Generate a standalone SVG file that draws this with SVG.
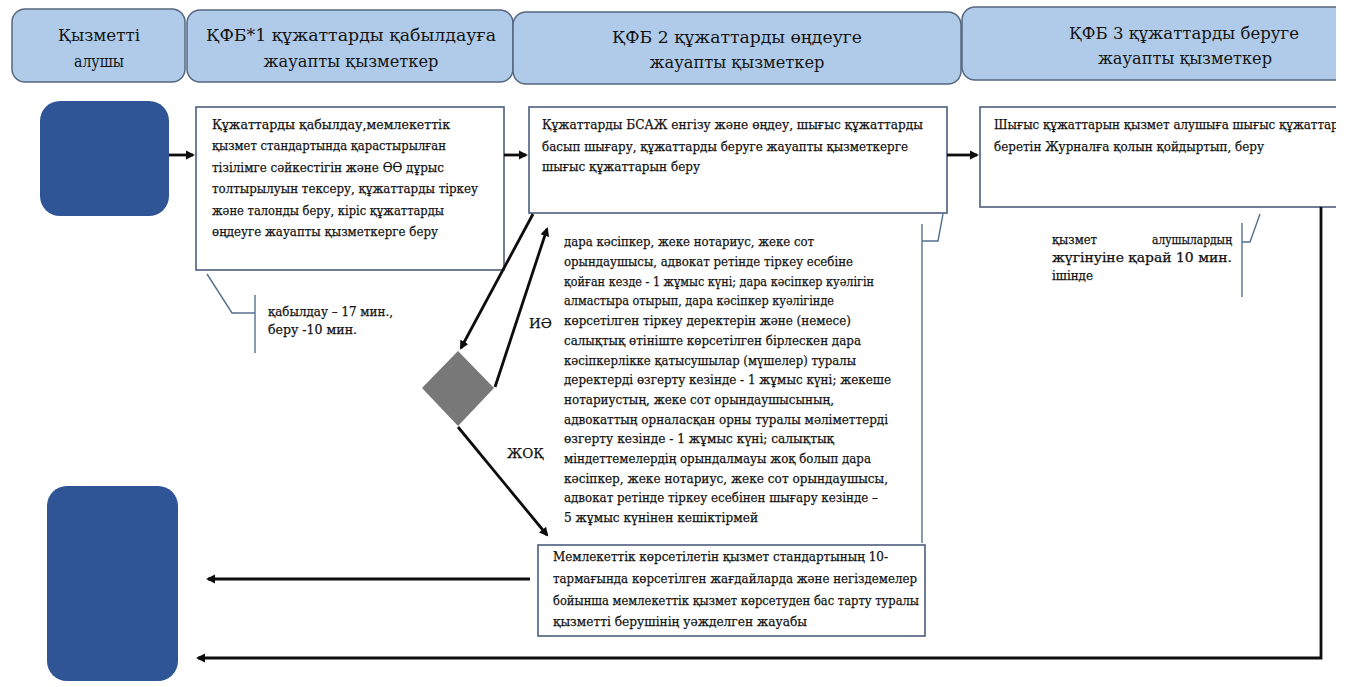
<svg xmlns="http://www.w3.org/2000/svg" width="1346" height="687" viewBox="0 0 1346 687">
  <style>
    .lane { fill: #afcbe9; stroke: #56677f; stroke-width: 1.5; }
    .ht { font-family: "DejaVu Serif", "Liberation Serif", serif; font-size: 17px; fill: #141414; text-anchor: middle; }
    .node { fill: #2f5597; }
    .box { fill: #ffffff; stroke: #4c5d7e; stroke-width: 1.6; }
    .t { font-family: "DejaVu Serif", "Liberation Serif", serif; font-size: 13.5px; fill: #111; stroke: #111; stroke-width: 0.25; }
    .ts { font-family: "DejaVu Serif", "Liberation Serif", serif; font-size: 12.5px; fill: #111; stroke: #111; stroke-width: 0.25; }
    .ln { fill: none; stroke: #0d0d0d; stroke-width: 2.8; }
    .co { fill: none; stroke: #55708f; stroke-width: 1.4; }
    .dec { fill: #787878; }
  </style>
  <defs>
    <marker id="ah" markerWidth="10" markerHeight="10" refX="7" refY="5" orient="auto" markerUnits="userSpaceOnUse">
      <path d="M0,0.5 L9,5 L0,9.5 Z" fill="#0d0d0d"/>
    </marker>
    <clipPath id="page">
      <rect x="0" y="0" width="1336" height="687"/>
    </clipPath>
  </defs>
  <rect width="1346" height="687" fill="#ffffff"/>

  <g clip-path="url(#page)">
    <!-- swimlane headers -->
    <g id="lane-recipient">
      <rect class="lane" x="12" y="9" width="173" height="73" rx="13"/>
      <text class="ht" x="99" y="41" textLength="82" lengthAdjust="spacingAndGlyphs">Қызметті</text>
      <text class="ht" x="99" y="67" textLength="50" lengthAdjust="spacingAndGlyphs">алушы</text>
    </g>
    <g id="lane-intake">
      <rect class="lane" x="187" y="10" width="326" height="72" rx="13"/>
      <text class="ht" x="351" y="41" textLength="290" lengthAdjust="spacingAndGlyphs">ҚФБ*1 құжаттарды қабылдауға</text>
      <text class="ht" x="351" y="67" textLength="175" lengthAdjust="spacingAndGlyphs">жауапты қызметкер</text>
    </g>
    <g id="lane-processing">
      <rect class="lane" x="513" y="12" width="448" height="72" rx="13"/>
      <text class="ht" x="737" y="43" textLength="250" lengthAdjust="spacingAndGlyphs">ҚФБ 2 құжаттарды өңдеуге</text>
      <text class="ht" x="737" y="68" textLength="175" lengthAdjust="spacingAndGlyphs">жауапты қызметкер</text>
    </g>
    <g id="lane-issue">
      <rect class="lane" x="962" y="7" width="420" height="73" rx="13"/>
      <text class="ht" x="1184" y="39" textLength="230" lengthAdjust="spacingAndGlyphs">ҚФБ 3 құжаттарды беруге</text>
      <text class="ht" x="1185" y="64" textLength="174" lengthAdjust="spacingAndGlyphs">жауапты қызметкер</text>
    </g>

    <!-- start / end terminals -->
    <g id="start">
      <rect class="node" x="40" y="101" width="129" height="115" rx="20"/>
    </g>
    <g id="end">
      <rect class="node" x="47" y="486" width="131" height="195" rx="20"/>
    </g>

    <!-- step 1: intake -->
    <g id="step-intake">
      <rect class="box" x="196" y="107" width="308" height="163"/>
      <text class="t" x="212" y="129" textLength="238" lengthAdjust="spacingAndGlyphs">Құжаттарды қабылдау,мемлекеттік</text>
      <text class="t" x="212" y="150" textLength="234" lengthAdjust="spacingAndGlyphs">қызмет стандартында қарастырылған</text>
      <text class="t" x="212" y="172" textLength="232" lengthAdjust="spacingAndGlyphs">тізілімге сәйкестігін және ӨӨ дұрыс</text>
      <text class="t" x="212" y="193" textLength="266" lengthAdjust="spacingAndGlyphs">толтырылуын тексеру, құжаттарды тіркеу</text>
      <text class="t" x="212" y="215" textLength="232" lengthAdjust="spacingAndGlyphs">және талонды беру, кіріс құжаттарды</text>
      <text class="t" x="212" y="236" textLength="226" lengthAdjust="spacingAndGlyphs">өңдеуге жауапты қызметкерге беру</text>
    </g>

    <!-- step 2: processing -->
    <g id="step-processing">
      <rect class="box" x="529" y="107" width="418" height="106"/>
      <text class="t" x="542" y="129" textLength="381" lengthAdjust="spacingAndGlyphs">Құжаттарды БСАЖ енгізу және өңдеу, шығыс құжаттарды</text>
      <text class="t" x="542" y="151" textLength="366" lengthAdjust="spacingAndGlyphs">басып шығару, құжаттарды беруге жауапты қызметкерге</text>
      <text class="t" x="542" y="171" textLength="158" lengthAdjust="spacingAndGlyphs">шығыс құжаттарын беру</text>
    </g>

    <!-- step 3: issue (runs past the right page edge) -->
    <g id="step-issue">
      <rect class="box" x="980" y="107" width="400" height="100"/>
      <text class="t" x="994" y="129" textLength="362" lengthAdjust="spacingAndGlyphs">Шығыс құжаттарын қызмет алушыға шығыс құжаттарын</text>
      <text class="t" x="994" y="151" textLength="270" lengthAdjust="spacingAndGlyphs">беретін Журналға қолын қойдыртып, беру</text>
    </g>

    <!-- decision -->
    <g id="decision">
      <polygon class="dec" points="458,351 494,388 458,426 422,388"/>
    </g>

    <!-- refusal -->
    <g id="step-refusal">
      <rect class="box" x="538" y="545" width="387" height="91"/>
      <text class="t" x="553" y="561" textLength="335" lengthAdjust="spacingAndGlyphs">Мемлекеттік көрсетілетін қызмет стандартының 10-</text>
      <text class="t" x="553" y="583" textLength="364" lengthAdjust="spacingAndGlyphs">тармағында көрсетілген жағдайларда және негіздемелер</text>
      <text class="t" x="553" y="605" textLength="366" lengthAdjust="spacingAndGlyphs">бойынша мемлекеттік қызмет көрсетуден бас тарту туралы</text>
      <text class="t" x="553" y="626" textLength="254" lengthAdjust="spacingAndGlyphs">қызметті берушінің уәжделген жауабы</text>
    </g>

    <!-- time notes (callouts) -->
    <g id="note-intake">
      <polyline class="co" points="207,274 232,313 255,313"/>
      <line class="co" x1="255" y1="295" x2="255" y2="353"/>
      <text class="t" x="268" y="316" textLength="125" lengthAdjust="spacingAndGlyphs">қабылдау – 17 мин.,</text>
      <text class="t" x="268" y="334" textLength="89" lengthAdjust="spacingAndGlyphs">беру -10 мин.</text>
    </g>

    <g id="note-processing">
      <polyline class="co" points="943,214 938,241 922,241"/>
      <line class="co" x1="922" y1="224" x2="922" y2="543"/>
      <text class="t" x="564" y="246" textLength="250" lengthAdjust="spacingAndGlyphs">дара кәсіпкер, жеке нотариус, жеке сот</text>
      <text class="t" x="564" y="266" textLength="289" lengthAdjust="spacingAndGlyphs">орындаушысы, адвокат ретінде тіркеу есебіне</text>
      <text class="t" x="564" y="286" textLength="310" lengthAdjust="spacingAndGlyphs">қойған кезде - 1 жұмыс күні; дара кәсіпкер куәлігін</text>
      <text class="t" x="564" y="305" textLength="270" lengthAdjust="spacingAndGlyphs">алмастыра отырып, дара кәсіпкер куәлігінде</text>
      <text class="t" x="564" y="325" textLength="287" lengthAdjust="spacingAndGlyphs">көрсетілген тіркеу деректерін және (немесе)</text>
      <text class="t" x="564" y="345" textLength="297" lengthAdjust="spacingAndGlyphs">салықтық өтініште көрсетілген бірлескен дара</text>
      <text class="t" x="564" y="365" textLength="292" lengthAdjust="spacingAndGlyphs">кәсіпкерлікке қатысушылар (мүшелер) туралы</text>
      <text class="t" x="564" y="384" textLength="327" lengthAdjust="spacingAndGlyphs">деректерді өзгерту кезінде -  1 жұмыс күні; жекеше</text>
      <text class="t" x="564" y="404" textLength="270" lengthAdjust="spacingAndGlyphs">нотариустың, жеке сот орындаушысының,</text>
      <text class="t" x="564" y="424" textLength="324" lengthAdjust="spacingAndGlyphs">адвокаттың орналасқан орны туралы мәліметтерді</text>
      <text class="t" x="564" y="443" textLength="270" lengthAdjust="spacingAndGlyphs">өзгерту кезінде - 1 жұмыс күні; салықтық</text>
      <text class="t" x="564" y="463" textLength="307" lengthAdjust="spacingAndGlyphs">міндеттемелердің орындалмауы жоқ болып дара</text>
      <text class="t" x="564" y="483" textLength="324" lengthAdjust="spacingAndGlyphs">кәсіпкер, жеке нотариус, жеке сот орындаушысы,</text>
      <text class="t" x="564" y="502" textLength="314" lengthAdjust="spacingAndGlyphs">адвокат ретінде тіркеу есебінен  шығару кезінде –</text>
      <text class="t" x="564" y="522" textLength="194" lengthAdjust="spacingAndGlyphs">5 жұмыс күнінен кешіктірмей</text>
    </g>

    <g id="note-issue">
      <polyline class="co" points="1260,214 1250,242 1242,242"/>
      <line class="co" x1="1242" y1="223" x2="1242" y2="297"/>
      <text class="ts" x="1052" y="244" textLength="45" lengthAdjust="spacingAndGlyphs">қызмет</text>
      <text class="ts" x="1232" y="244" text-anchor="end" textLength="80" lengthAdjust="spacingAndGlyphs">алушылардың</text>
      <text class="ts" x="1052" y="262" textLength="180" lengthAdjust="spacingAndGlyphs">жүгінуіне қарай 10 мин.</text>
      <text class="ts" x="1052" y="280" textLength="41" lengthAdjust="spacingAndGlyphs">ішінде</text>
    </g>

    <!-- connectors -->
    <g id="connectors">
      <line class="ln" x1="169" y1="155" x2="193" y2="155" marker-end="url(#ah)"/>
      <line class="ln" x1="504" y1="155" x2="526" y2="155" marker-end="url(#ah)"/>
      <line class="ln" x1="947" y1="155" x2="977" y2="155" marker-end="url(#ah)"/>
      <line class="ln" x1="533" y1="214" x2="461" y2="348" marker-end="url(#ah)"/>
      <line class="ln" x1="495" y1="387" x2="547" y2="229" marker-end="url(#ah)"/>
      <line class="ln" x1="458" y1="427" x2="547" y2="535" marker-end="url(#ah)"/>
      <line class="ln" x1="530" y1="579" x2="208" y2="579" marker-end="url(#ah)"/>
      <polyline class="ln" points="1321,207 1321,658 198,658" marker-end="url(#ah)"/>
      <text class="t" x="529" y="328" font-size="14">ИӘ</text>
      <text class="t" x="507" y="458" font-size="14">ЖОҚ</text>
    </g>
  </g>
</svg>
